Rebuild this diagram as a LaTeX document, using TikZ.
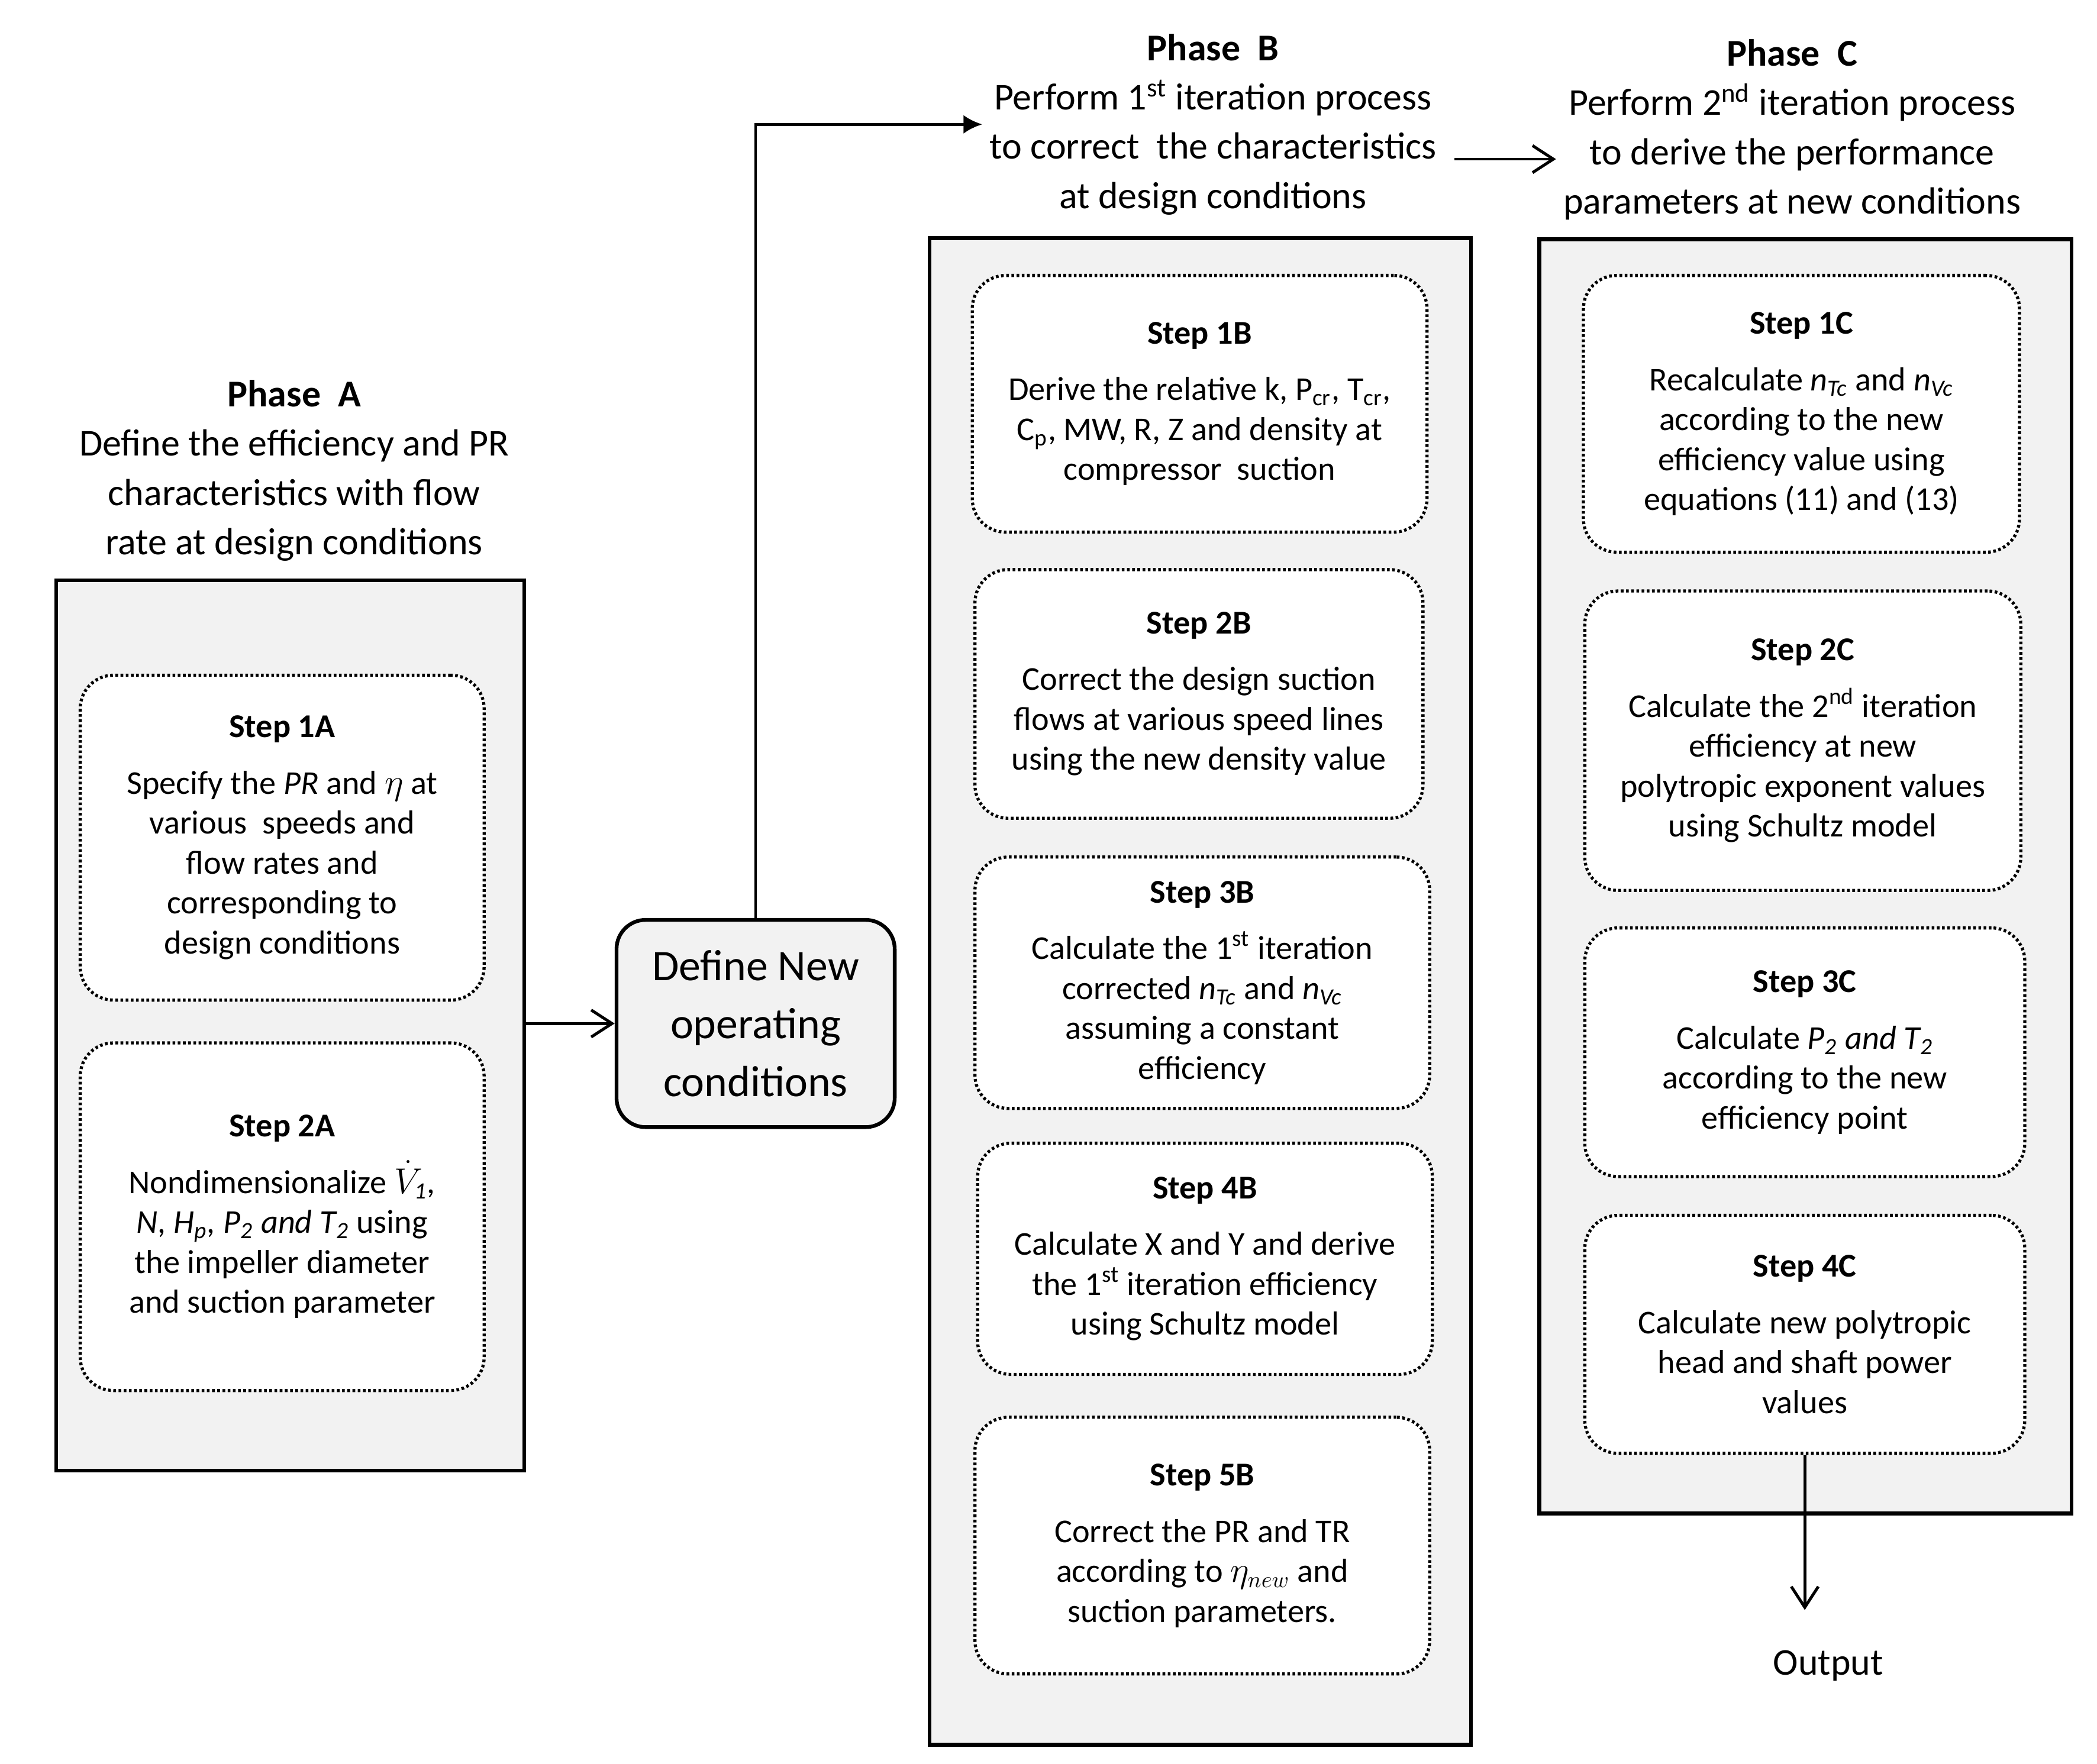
\documentclass[tikz,border=0pt]{standalone}
\usepackage{amsmath}
\usepackage{fontspec}
\setmainfont{Carlito}
\usetikzlibrary{arrows.meta,positioning}
\definecolor{panelgray}{HTML}{F2F2F2}
\newcommand{\pxu}{0.0226cm}

\begin{document}
\begin{tikzpicture}[x=\pxu,y=-\pxu,
  phase/.style 2 args={draw,line width=1.8pt,fill=panelgray,inner sep=0pt,
    minimum width=#1*\pxu,minimum height=#2*\pxu},
  stepbox/.style 2 args={draw,fill=white,line width=1.5pt,dash pattern=on 1.3pt off 1.2pt,
    rounded corners=16pt,align=center,inner sep=2pt,
    minimum width=#1*\pxu,minimum height=#2*\pxu,font=\fontsize{16}{19.2}\selectfont},
  title/.style={align=center,font=\fontsize{18.2}{23.7}\selectfont},
  arr/.style={-{Straight Barb[length=10pt,width=13pt]},line width=1.4pt},
  arrfill/.style={-{Latex[length=9pt,width=9pt]},line width=1.4pt}]
  \useasboundingbox (0,0) rectangle (1568,1319);

  % phase A
  \node[title] (titleA) at (220,352) {\textbf{Phase~ A}\\Define the efficiency and PR\\characteristics with flow\\rate at design conditions};
  \node[phase={350}{666}] (phaseA) at (217,767) {};
  \node[stepbox={302}{243}] (step1A) at (211,626.5) {\textbf{Step 1A}\\[8pt]Specify the \textit{PR} and $\eta$ at\\various~ speeds and\\flow rates and\\corresponding to\\design conditions};
  \node[stepbox={302}{260}] (step2A) at (211,910) {\textbf{Step 2A}\\[8pt]Nondimensionalize $\dot{V}_{\textit{1}}$\textit{,}\\\textit{N, H\textsubscript{p}, P\textsubscript{2} and T\textsubscript{2}} using\\the impeller diameter\\and suction parameter};

  % new conditions
  \node[draw,line width=1.8pt,fill=panelgray,rounded corners=14pt,align=center,
    minimum width=208*\pxu,minimum height=155*\pxu,
    font=\fontsize{21}{27.9}\selectfont] (defnew) at (565,765.5) {Define New\\operating\\conditions};

  % phase B
  \node[title] (titleB) at (907,93) {\textbf{Phase~ B}\\Perform 1\textsuperscript{st} iteration process\\to correct~ the characteristics\\at design conditions};
  \node[phase={405}{1127}] (phaseB) at (897.5,741.5) {};
  \node[stepbox={340}{192}] (step1B) at (897,302) {\textbf{Step 1B}\\[8pt]Derive the relative k, P\textsubscript{cr}, T\textsubscript{cr},\\C\textsubscript{p}, MW, R, Z and density at\\compressor~ suction};
  \node[stepbox={335}{186}] (step2B) at (896.5,519) {\textbf{Step 2B}\\[8pt]Correct the design suction\\flows at various speed lines\\using the new density value};
  \node[stepbox={340}{188}] (step3B) at (899,735) {\textbf{Step 3B}\\[8pt]Calculate the 1\textsuperscript{st} iteration\\corrected \textit{n\textsubscript{Tc}} and \textit{n\textsubscript{Vc}}\\assuming a constant\\efficiency};
  \node[stepbox={340}{173}] (step4B) at (901,941.5) {\textbf{Step 4B}\\[8pt]Calculate X and Y and derive\\the 1\textsuperscript{st} iteration efficiency\\using Schultz model};
  \node[stepbox={340}{192}] (step5B) at (899,1156) {\textbf{Step 5B}\\[8pt]Correct the PR and TR\\according to $\eta_{new}$ and\\suction parameters.};

  % phase C
  \node[title] (titleC) at (1340,97) {\textbf{Phase~ C}\\Perform 2\textsuperscript{nd} iteration process\\to derive the performance\\parameters at new conditions};
  \node[phase={398}{953}] (phaseC) at (1350,655.5) {};
  \node[stepbox={326}{207}] (step1C) at (1347,309.5) {\textbf{Step 1C}\\[8pt]Recalculate \textit{n\textsubscript{Tc}} and \textit{n\textsubscript{Vc}}\\according to the new\\efficiency value using\\equations (11) and (13)};
  \node[stepbox={326}{224}] (step2C) at (1348,554) {\textbf{Step 2C}\\[8pt]Calculate the 2\textsuperscript{nd} iteration\\efficiency at new\\polytropic exponent values\\using Schultz model};
  \node[stepbox={329}{186}] (step3C) at (1349.5,787) {\textbf{Step 3C}\\[8pt]Calculate \textit{P\textsubscript{2} and T\textsubscript{2}}\\according to the new\\efficiency point};
  \node[stepbox={329}{178}] (step4C) at (1349.5,998) {\textbf{Step 4C}\\[8pt]Calculate new polytropic\\head and shaft power\\values};
  \node[title] (output) at (1367,1246) {Output};

  % connectors
  \draw[arr] (phaseA.east |- defnew) -- (defnew.west);
  \draw[arrfill] (defnew.north) |- (titleB.west);
  \draw[arr] ([xshift=8*\pxu,yshift=-26*\pxu]titleB.east) coordinate (bc) -- (bc -| titleC.west);
  \draw[arr,shorten >=16pt] (step4C.south) -- (step4C.south |- output.north);
\end{tikzpicture}
\end{document}
